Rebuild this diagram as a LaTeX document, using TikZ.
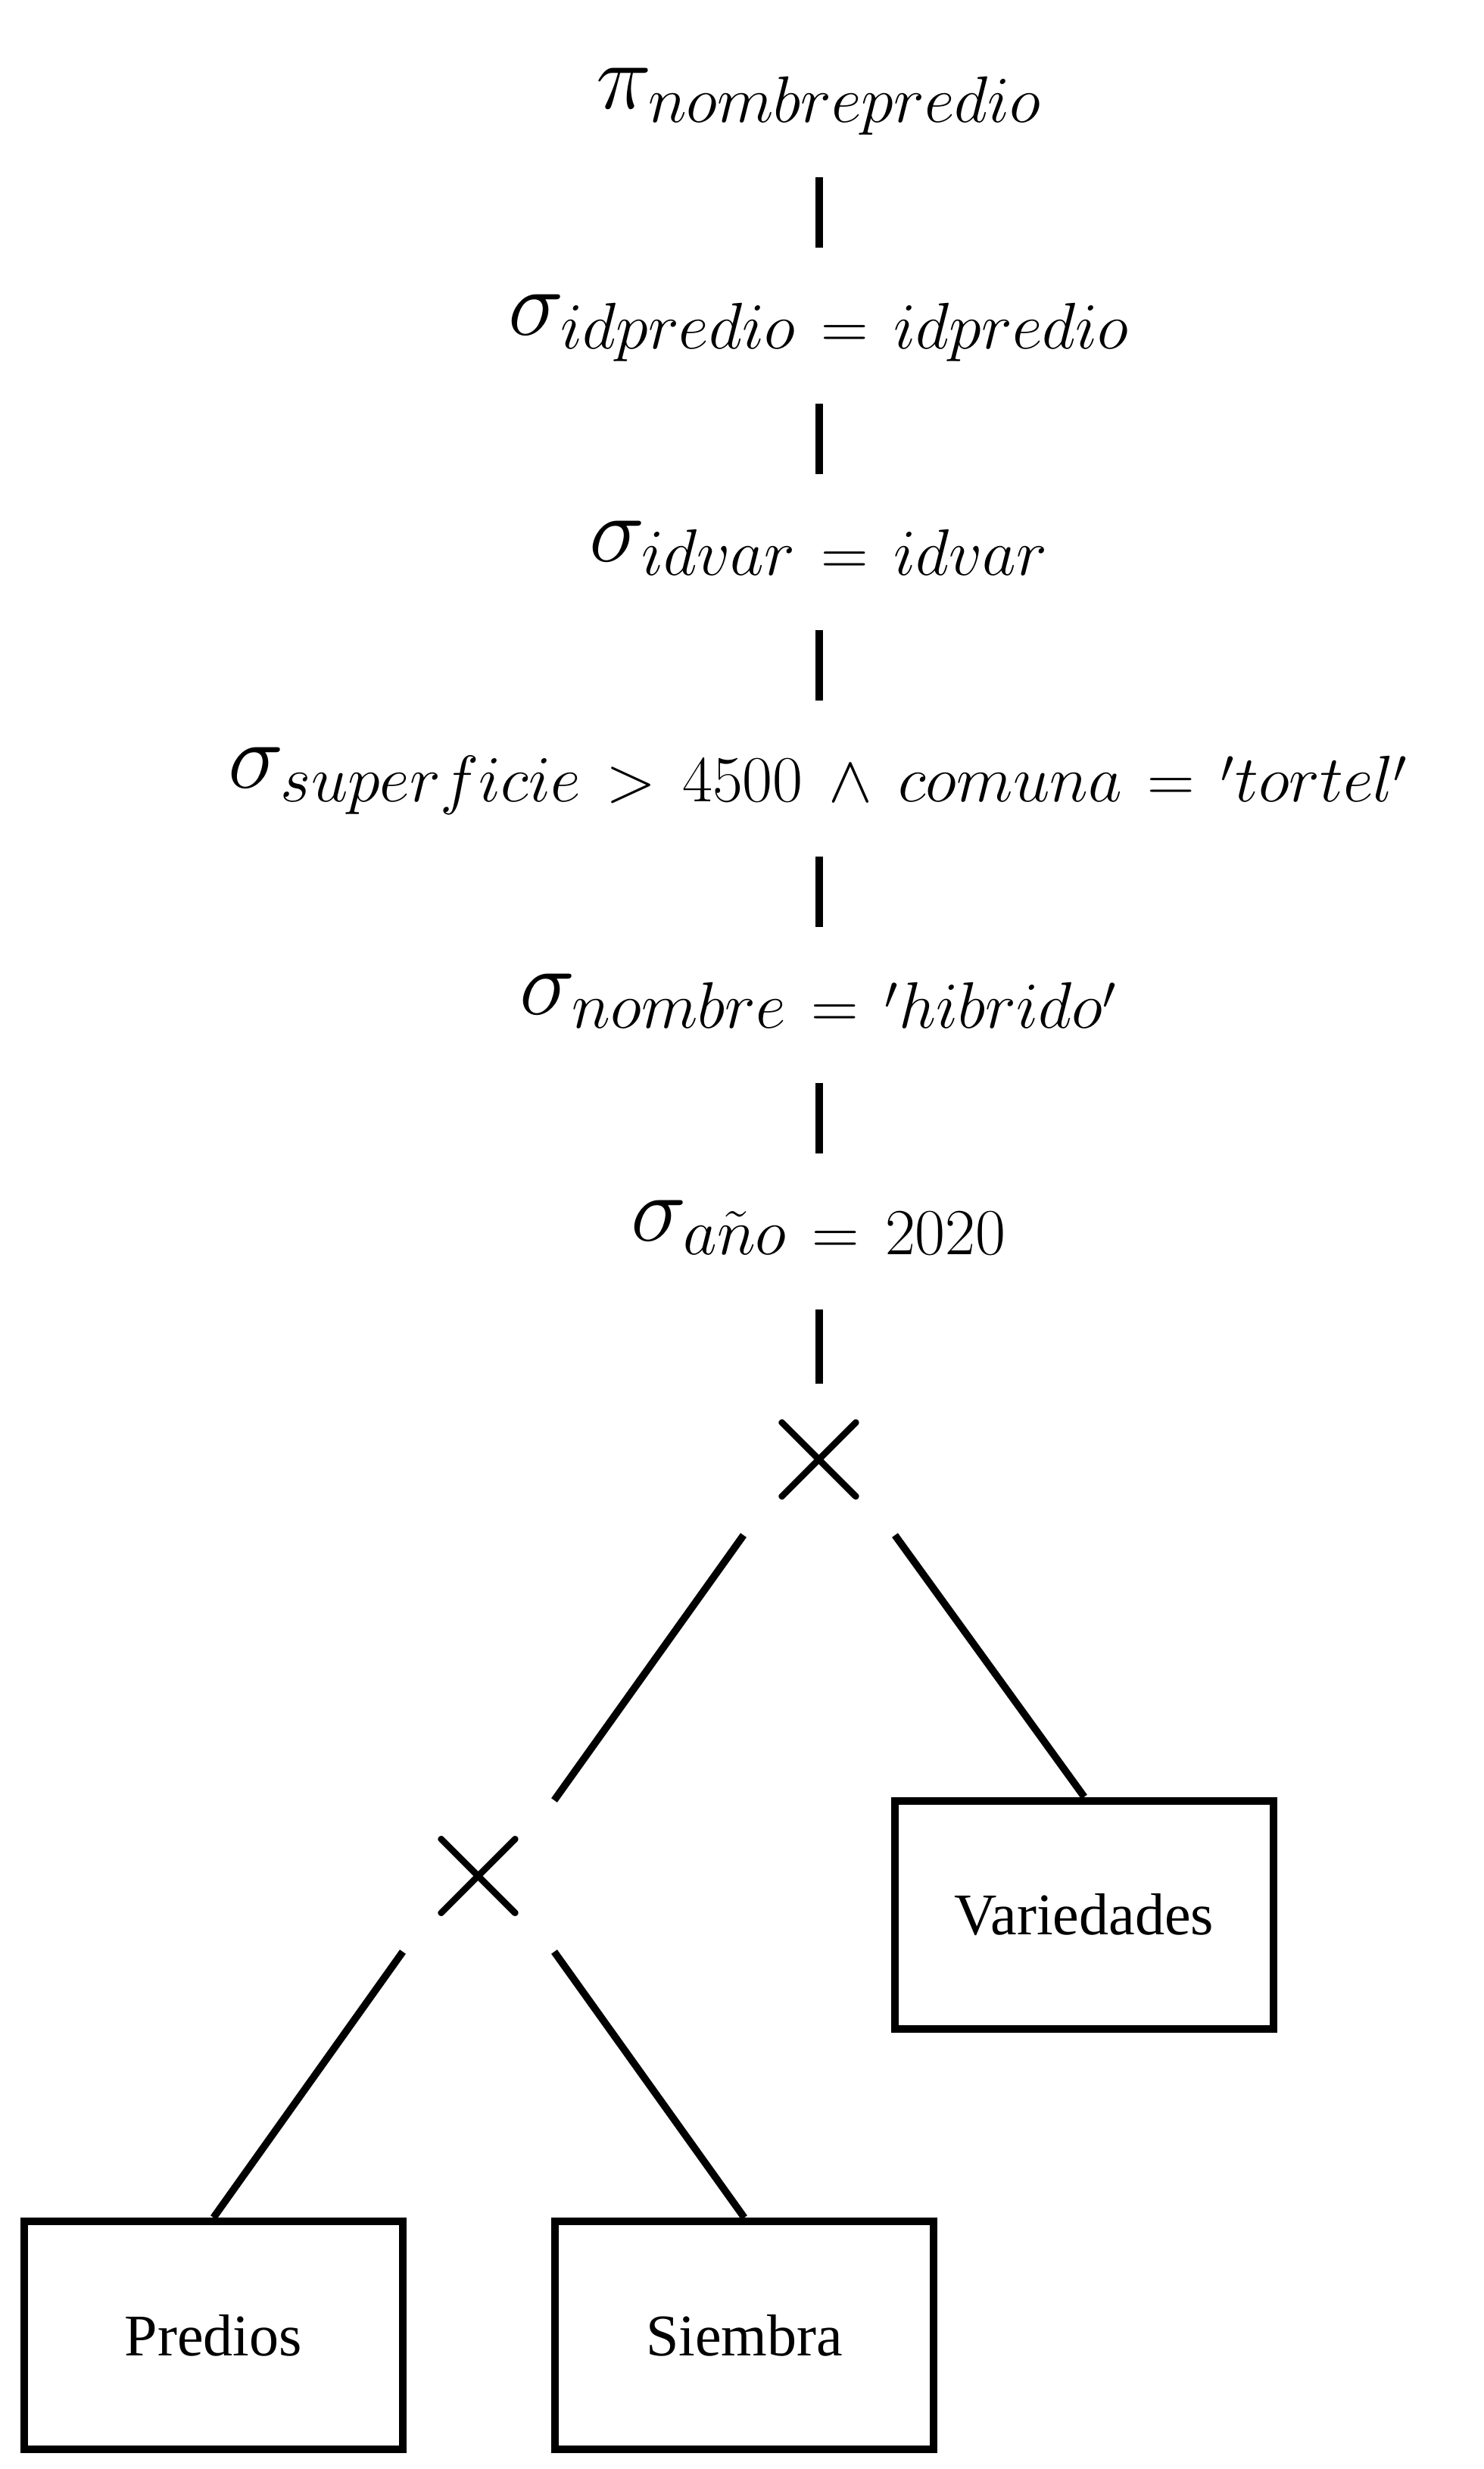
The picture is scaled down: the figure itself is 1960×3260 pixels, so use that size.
\RequirePackage{fix-cm}
\documentclass[tikz,border=0pt]{standalone}
\usepackage[no-math]{fontspec}
\newfontfamily\cajafont{Liberation Serif}

\begin{document}
\begin{tikzpicture}[x=0.25pt, y=-0.25pt,
  etiqueta/.style={anchor=base, inner sep=0pt, outer sep=0pt,
    text height=28.75pt, text depth=22.75pt, font=\fontsize{31}{37}\selectfont},
  cruz/.style={minimum size=50pt, inner sep=0pt, outer sep=0pt,
    font=\fontsize{55}{60}\selectfont},
  tabla/.style={draw, line width=2.5pt, minimum width=125pt, minimum height=75.25pt,
    inner sep=0pt, font=\cajafont\fontsize{19.5}{23}\selectfont},
  conector/.style={line width=2.4pt}]
  \useasboundingbox (0,0) rectangle (1960,3260);
  \def\ejex{1082}
  \def\paso{299}
  \def\esp{\hskip 8.5pt} % espacio de relacion en el subindice
  \foreach \i/\etq in {1/{\pi_{nombrepredio}},
                       2/{\sigma_{idpredio\esp=\esp idpredio}},
                       3/{\sigma_{idvar\esp=\esp idvar}},
                       4/{\sigma_{superficie\esp>\esp 4500\esp\wedge\esp comuna\esp=\esp{}'tortel'}},
                       5/{\sigma_{nombre\esp=\esp{}'hibrido'}},
                       6/{\sigma_{a\tilde{n}o\esp=\esp 2020}}} {
      \node[etiqueta] (e\i) at (\ejex, {143+\paso*(\i-1)}) {$\etq$};
  }
  \foreach \a/\b in {1/2,2/3,3/4,4/5,5/6} {
      \draw[conector] (e\a.south) -- (e\b.north); % cadena de selecciones
  }
  \node[cruz] (x1) at (\ejex,1927) {$\times$}; % producto
  \node[cruz] (x2) at (632,2477) {$\times$};
  \node[tabla] (variedades) at (1432,2528) {Variedades};
  \node[tabla] (predios) at (282,3083.5) {Predios};
  \node[tabla] (siembra) at (983,3083.5) {Siembra};
  \draw[conector] (e6.south) -- (x1.north);
  \draw[conector] (x1.south west) -- (x2.north east);
  \draw[conector] (x1.south east) -- (variedades.north);
  \draw[conector] (x2.south west) -- (predios.north);
  \draw[conector] (x2.south east) -- (siembra.north);
\end{tikzpicture}
\end{document}
